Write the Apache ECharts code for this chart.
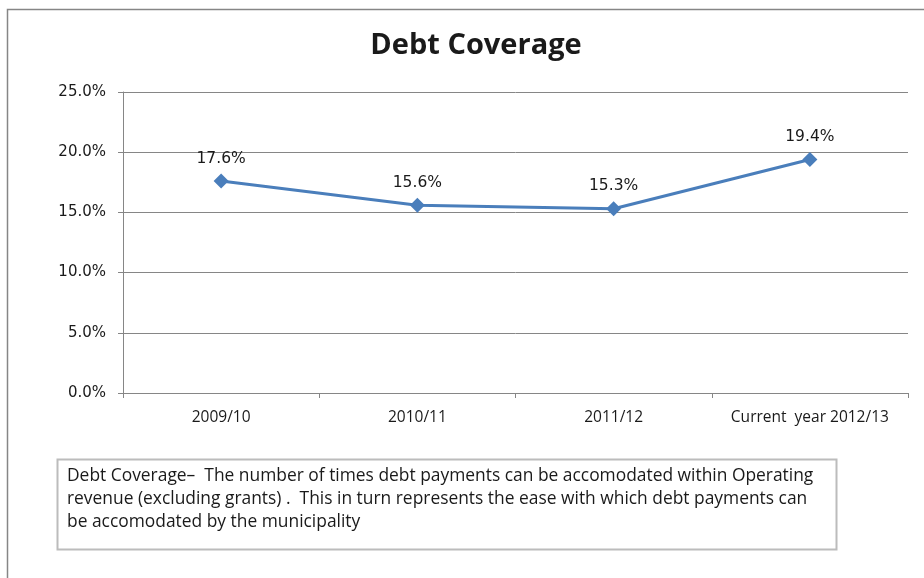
<!DOCTYPE html>
<html lang="en">
<head>
    <meta charset="UTF-8">
    <title>Debt Coverage</title>
    <script src="https://cdn.jsdelivr.net/npm/echarts@6/dist/echarts.min.js"></script>
    <style>
        html, body { margin: 0; padding: 0; background: #fff; }
        #chart { width: 924px; height: 578px; }
    </style>
</head>
<body>
<div id="chart"></div>
<script>
    var years = ['2009/10', '2010/11', '2011/12', 'Current  year 2012/13'];
    var coverage = [17.6, 15.6, 15.3, 19.4];
    var noteLines = [
        'Debt Coverage–  The number of times debt payments can be accomodated within Operating',
        'revenue (excluding grants) .  This in turn represents the ease with which debt payments can',
        'be accomodated by the municipality'
    ];

    var narrow = "'Open Sans', sans-serif";
    var myChart = echarts.init(document.getElementById('chart'));

    var option = {
        backgroundColor: '#fff',
        animation: false,
        title: {
            text: 'Debt Coverage',
            left: 471,
            top: 26,
            textAlign: 'center',
            textStyle: { fontFamily: 'Open Sans', fontWeight: 'bold', fontSize: 29, color: '#1a1a1a' }
        },
        grid: { left: 123, right: 16, top: 92, bottom: 185 },
        xAxis: {
            type: 'category',
            data: years,
            axisLine: { lineStyle: { color: '#868686', width: 1 } },
            axisTick: { show: true, interval: 0, length: 5, lineStyle: { color: '#868686' } },
            axisLabel: { interval: 0, fontFamily: narrow, fontSize: 15.5, color: '#1a1a1a', margin: 17 },
            splitLine: { show: false }
        },
        yAxis: {
            type: 'value',
            min: 0,
            max: 25,
            interval: 5,
            axisLine: { show: true, lineStyle: { color: '#868686', width: 1 } },
            axisTick: { show: true, length: 5, lineStyle: { color: '#868686' } },
            axisLabel: {
                fontFamily: 'DejaVu Sans', fontSize: 15, color: '#1a1a1a', margin: 17,
                formatter: function (v) { return v.toFixed(1) + '%'; }
            },
            splitLine: { lineStyle: { color: '#868686', width: 1 } }
        },
        series: [{
            type: 'line',
            data: coverage,
            symbol: 'diamond',
            symbolSize: 15,
            lineStyle: { color: '#4a7ebb', width: 3 },
            itemStyle: { color: '#4a7ebb' },
            label: {
                show: true,
                position: 'top',
                distance: 7,
                fontFamily: 'DejaVu Sans',
                fontSize: 15.5,
                color: '#1a1a1a',
                formatter: function (p) { return p.value.toFixed(1) + '%'; }
            }
        }],
        graphic: [
            {
                type: 'rect',
                shape: { x: 7.5, y: 9.5, width: 1000, height: 1000 },
                style: { fill: 'none', stroke: '#868686', lineWidth: 1.5 },
                silent: true
            },
            {
                type: 'rect',
                shape: { x: 57.5, y: 459.5, width: 779, height: 90 },
                style: { fill: '#fff', stroke: '#bcbcbc', lineWidth: 2 },
                silent: true
            },
            {
                type: 'text',
                left: 67,
                top: 465,
                style: {
                    text: noteLines.join('\n'),
                    font: '17.4px ' + narrow,
                    lineHeight: 23,
                    fill: '#1a1a1a'
                },
                silent: true
            }
        ]
    };

    myChart.setOption(option);
</script>
</body>
</html>
